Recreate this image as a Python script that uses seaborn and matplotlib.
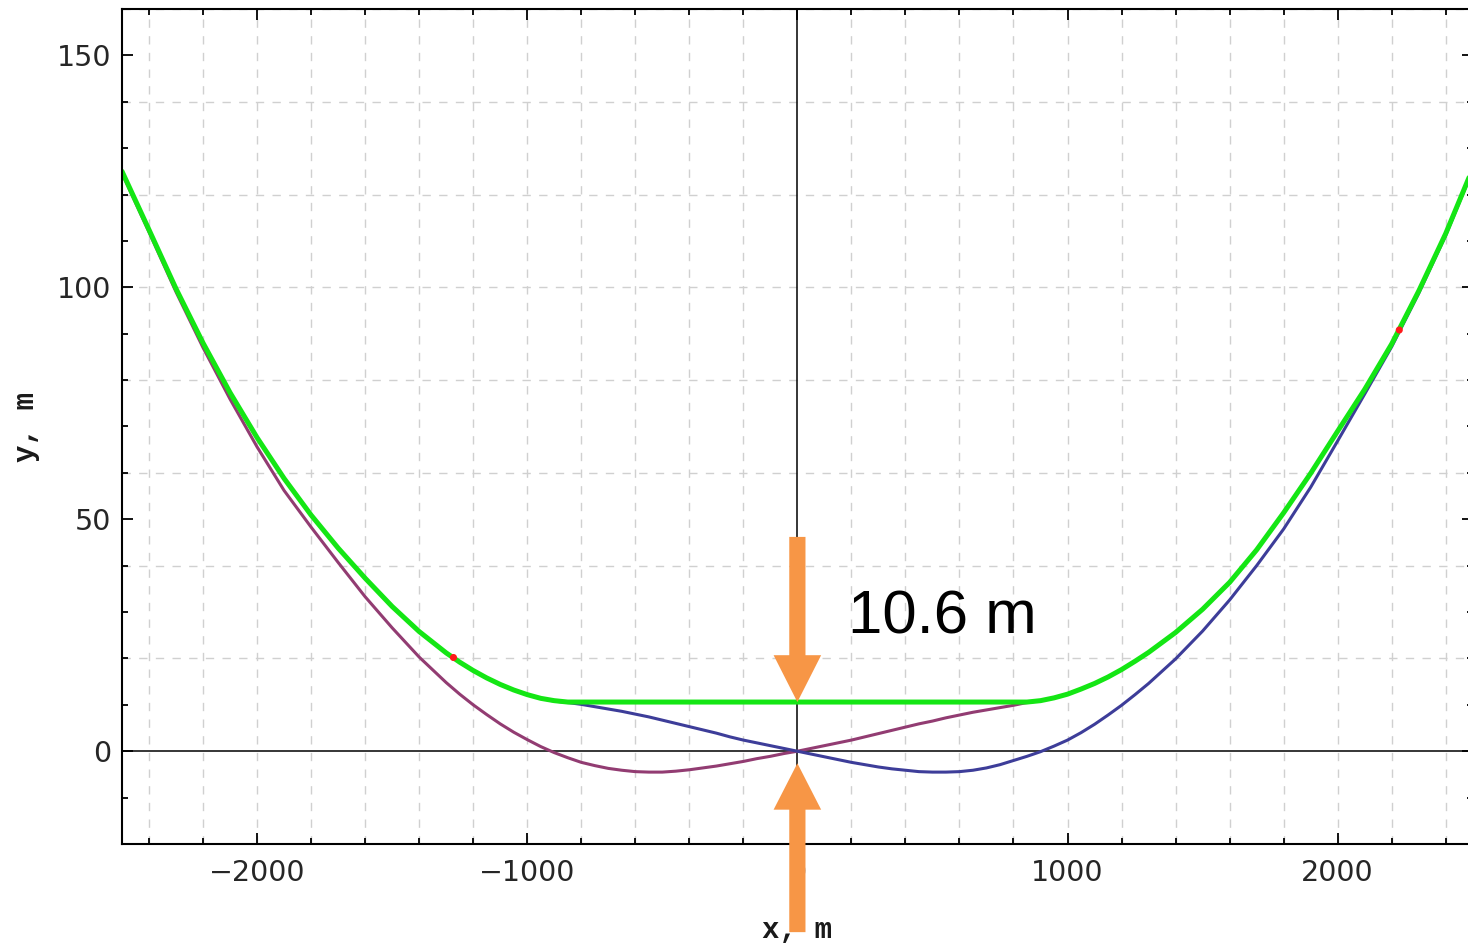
import matplotlib
matplotlib.use("Agg")
import matplotlib.pyplot as plt
from matplotlib.patches import FancyArrow
from matplotlib.ticker import FixedLocator, MultipleLocator
import seaborn as sns

# Stations along the alignment, m (denser where the profiles bend)
x_m = [-2500, -2400, -2300, -2200, -2100, -2000, -1900, -1800, -1700, -1600,
       -1500, -1400,
       -1300, -1250, -1200, -1150, -1100, -1050, -1000, -950, -900, -850,
       -800, -750, -700, -650, -600, -550, -500, -450, -400, -350,
       -300, -250, -200, -150, -100, -50, 0, 50, 100, 150,
       200, 250, 300, 350, 400, 450, 500, 550, 600, 650,
       700, 750, 800, 850, 900, 950, 1000, 1050, 1100, 1150,
       1200, 1250, 1300,
       1400, 1500, 1600, 1700, 1800, 1900, 2000, 2100, 2200, 2300, 2400, 2500]

# Upper envelope (green)
y_envelope = [125.0, 112.4, 99.7, 88.0, 77.3, 67.6, 58.8, 50.9, 43.8, 37.3,
              31.2, 25.8,
              21.2, 19.2, 17.4, 15.8, 14.4, 13.2, 12.2, 11.4, 10.9, 10.6,
              10.6, 10.6, 10.6, 10.6, 10.6, 10.6, 10.6, 10.6, 10.6, 10.6,
              10.6, 10.6, 10.6, 10.6, 10.6, 10.6, 10.6, 10.6, 10.6, 10.6,
              10.6, 10.6, 10.6, 10.6, 10.6, 10.6, 10.6, 10.6, 10.6, 10.6,
              10.6, 10.6, 10.6, 10.6, 10.9, 11.5, 12.3, 13.4, 14.6, 16.0,
              17.6, 19.4, 21.3,
              25.6, 30.6, 36.4, 43.4, 51.4, 59.9, 69.0, 78.0, 87.8, 99.2, 111.6, 125.6]

# Profile A (purple)
y_profile_a = [124.6, 111.9, 99.0, 87.0, 75.9, 65.6, 56.2, 48.3, 40.7, 33.3,
               26.6, 20.3,
               14.8, 12.3, 10.0, 7.9, 5.9, 4.1, 2.5, 1.0, -0.3, -1.4,
               -2.4, -3.1, -3.7, -4.1, -4.4, -4.5, -4.5, -4.3, -4.0, -3.6,
               -3.2, -2.7, -2.2, -1.6, -1.1, -0.5, 0.0, 0.6, 1.2, 1.8,
               2.4, 3.1, 3.8, 4.5, 5.2, 5.9, 6.5, 7.2, 7.8, 8.4,
               8.9, 9.4, 9.9, 10.5, 10.9, 11.5, 12.3, 13.4, 14.6, 16.0,
               17.6, 19.4, 21.3,
               25.6, 30.6, 36.4, 43.4, 51.4, 59.9, 69.0, 78.0, 87.8, 99.2, 111.6, 125.6]

# Profile B (blue)
y_profile_b = [125.0, 112.4, 99.7, 88.0, 77.3, 67.6, 58.8, 50.9, 43.8, 37.3,
               31.2, 25.8,
               21.2, 19.2, 17.4, 15.8, 14.4, 13.2, 12.2, 11.4, 10.8, 10.5,
               10.1, 9.6, 9.1, 8.6, 8.0, 7.4, 6.7, 6.0, 5.3, 4.6,
               3.9, 3.1, 2.4, 1.8, 1.2, 0.6, 0.0, -0.6, -1.2, -1.8,
               -2.4, -2.9, -3.4, -3.8, -4.1, -4.4, -4.5, -4.5, -4.4, -4.1,
               -3.6, -2.9, -2.0, -1.1, -0.1, 1.1, 2.4, 4.0, 5.8, 7.8,
               9.9, 12.2, 14.6,
               19.9, 25.9, 32.6, 40.0, 47.9, 56.9, 66.9, 77.0, 87.2, 98.7, 111.2, 125.3]

# Marked points on the envelope
marker_x = [-1273, 2228]
marker_y = [20.2, 90.8]

# Clearance at the centre, m
gap_value = 10.6

x_ticks = [-2000, -1000, 0, 1000, 2000]
x_tick_labels = ["\u22122000", "\u22121000", "0", "1000", "2000"]
y_ticks = [0, 50, 100, 150]
y_tick_labels = ["0", "50", "100", "150"]

sns.set_theme(style="white")
plt.rcParams["font.family"] = ["DejaVu Sans"]

W, H = 1468, 946
fig = plt.figure(figsize=(W / 100, H / 100), dpi=100)
fig.patch.set_facecolor("white")
ax = fig.add_axes([122 / W, 1 - 844 / H, 1350.75 / W, 835 / H])
ax.set_facecolor("white")
ax.set_xlim(-2500, 2500)
ax.set_ylim(-20, 160)

# dashed background grid
grid_kw = dict(color="#d0d0d0", lw=1.0, ls=(0, (6, 6)), zorder=0.5)
for gx in range(-2400, 2401, 200):
    if gx != 0:
        ax.axvline(gx, **grid_kw)
for gy in range(-20, 161, 20):
    if gy != 0:
        ax.axhline(gy, **grid_kw)

# coordinate axes through the origin
ax.axhline(0, color="black", lw=1.1, zorder=1.8)
ax.axvline(0, color="black", lw=1.1, zorder=1.8)

line_kw = dict(sort=False, estimator=None, solid_joinstyle="round",
               solid_capstyle="round", ax=ax)
sns.lineplot(x=x_m, y=y_profile_a, color="#923c72", lw=2.2, zorder=2, **line_kw)
sns.lineplot(x=x_m, y=y_profile_b, color="#3d3d99", lw=2.2, zorder=2.1, **line_kw)
sns.lineplot(x=x_m, y=y_envelope, color="#14e614", lw=3.6, zorder=3, **line_kw)
sns.scatterplot(x=marker_x, y=marker_y, color="#ff1a1a", s=26,
                edgecolor="none", ax=ax, zorder=4)

# arrows marking the clearance
arrow_color = "#f79646"
ax.add_patch(FancyArrow(0, 46.2, 0, -(46.2 - gap_value), width=60,
                        head_width=176, head_length=10.1,
                        length_includes_head=True, fc=arrow_color,
                        ec="none", zorder=5, clip_on=False))
ax.add_patch(FancyArrow(0, -39.0, 0, 36.4, width=60, head_width=176,
                        head_length=10.0, length_includes_head=True,
                        fc=arrow_color, ec="none", zorder=5, clip_on=False))
ax.text(189, 25.4, f"{gap_value} m", fontsize=44.5,
        family=["Liberation Sans", "DejaVu Sans"], color="black",
        ha="left", va="baseline", zorder=6)

# ticks and frame
ax.xaxis.set_major_locator(FixedLocator(x_ticks))
ax.set_xticklabels(x_tick_labels)
ax.yaxis.set_major_locator(FixedLocator(y_ticks))
ax.set_yticklabels(y_tick_labels)
ax.xaxis.set_minor_locator(MultipleLocator(200))
ax.yaxis.set_minor_locator(MultipleLocator(10))
ax.tick_params(which="both", direction="in", top=True, right=True,
               bottom=True, left=True, color="black", width=1.3,
               labelsize=20.5, labelcolor="#262626")
ax.tick_params(which="major", length=8, pad=8)
ax.tick_params(axis="x", which="major", pad=11)
ax.tick_params(which="minor", length=4.5)
for s in ax.spines.values():
    s.set_color("black")
    s.set_linewidth(1.5)
    s.set_zorder(4.5)

label_kw = dict(fontsize=21, fontweight="bold",
                family=["Liberation Mono", "DejaVu Sans Mono"], color="#1a1a1a")
ax.set_xlabel("x, m", labelpad=21, **label_kw)
ax.set_ylabel("y, m", labelpad=12, **label_kw)

fig.savefig("out.png", dpi=100, facecolor="white")
